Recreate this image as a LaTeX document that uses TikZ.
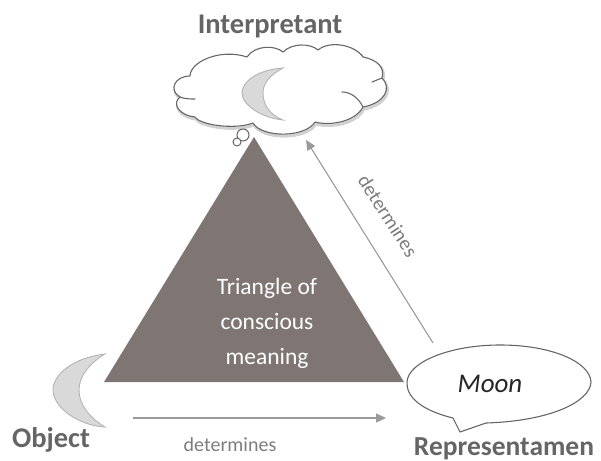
\documentclass[tikz,border=0pt]{standalone}
\usepackage{fontspec}
\setmainfont{Carlito}
\usetikzlibrary{arrows.meta}
\definecolor{tri}{HTML}{7F7674}
\definecolor{lab}{HTML}{656565}
\definecolor{arr}{HTML}{9A9A9A}
\definecolor{moonf}{HTML}{D9D9D9}
\definecolor{moond}{HTML}{B4B4B4}
\tikzset{
 x=1pt,y=-1pt,
 heading/.style={font=\bfseries\fontsize{28.5}{32}\selectfont,text=lab,inner sep=0pt},
 small/.style={font=\fontsize{20}{24}\selectfont,text=lab!85,inner sep=0pt},
 moonshape/.style={draw=moond,fill=moonf,line width=0.9pt},
 bubble/.style={draw=black!60,fill=white,line width=1.1pt,line join=round},
 bubbleline/.style={draw=black!60,line width=1.1pt,line cap=round},
 bubbleshadow/.style={draw=black!18,line width=3pt,line join=round},
 link/.style={draw=arr,line width=1.1pt,-{Triangle[length=10pt,width=9pt]}},
}
\newcommand{\cloudpath}{
 (190,76) .. controls (190,62) and (220,48) .. (247,57)
 .. controls (255,45) and (275,45) .. (283,52)
 .. controls (292,43) and (310,43) .. (318,50)
 .. controls (330,40) and (355,45) .. (363,57)
 .. controls (378,60) and (385,68) .. (382,78)
 .. controls (392,88) and (385,103) .. (363,107)
 .. controls (355,122) and (330,126) .. (315,122)
 .. controls (305,138) and (262,138) .. (253,123)
 .. controls (235,130) and (200,125) .. (195,117)
 .. controls (178,115) and (172,103) .. (180,97)
 .. controls (168,90) and (175,76) .. (190,76) -- cycle}
\begin{document}
\begin{tikzpicture}
\useasboundingbox (0,0) rectangle (601,460);
% cloud
\draw[bubbleshadow,shift={(1,2)}] \cloudpath;
\draw[bubble] \cloudpath;
\draw[bubbleline] (342,92) .. controls (350,92) and (358,97) .. (363,107);
\draw[bubbleline] (180,97) .. controls (185,99) and (190,99) .. (195,99);
\draw[bubbleline] (372,82) -- (382,78);
\node[circle,draw=black!60,fill=white,line width=1pt,minimum size=12pt,inner sep=0pt] (t1) at (243,135) {};
\node[circle,draw=black!60,fill=white,line width=1pt,minimum size=8pt,inner sep=0pt] (t2) at (237,142) {};
% triangle
\fill[tri] (254,137) -- (404,382) -- (104,382) -- cycle;
\node[font=\fontsize{23.5}{35}\selectfont,text=white,align=center,inner sep=0pt] (tt) at (267,323) {Triangle of\\conscious\\meaning};
% moons
\draw[moonshape] (283,68) .. controls (255,70) and (242,83) .. (242,93) .. controls (242,105) and (262,118) .. (283,120) .. controls (270,115) and (263,105) .. (263,93) .. controls (263,83) and (270,75) .. (283,68) -- cycle;
\draw[moonshape] (105,354) .. controls (72,358) and (53,375) .. (53,390) .. controls (53,408) and (80,426) .. (105,427) .. controls (90,418) and (79,405) .. (79,390) .. controls (79,376) and (90,363) .. (105,354) -- cycle;
% speech bubble
\draw[bubble] (453,418) .. controls (420,410) and (406,396) .. (407,382) .. controls (408,362) and (450,345) .. (500,345) .. controls (552,345) and (590,362) .. (591,382) .. controls (590,402) and (550,421) .. (486,423) -- (460,432) -- cycle;
\node[font=\itshape\fontsize{27}{30}\selectfont,text=black!85,inner sep=0pt] (moon) at (490,384) {Moon};
% labels
\node[heading] (int) at (270,27) {Interpretant};
\node[heading] (obj) at (51,440) {Object};
\node[heading,font=\bfseries\fontsize{27.5}{32}\selectfont] (rep) at (504,449) {Representamen};
\node[small] (d1) at (230,445) {determines};
\node[small,rotate=-57] (d2) at (388,216) {determines};
% arrows
\coordinate (a1) at (133,418);
\coordinate (a2) at (386,418);
\coordinate (b1) at (433,343);
\coordinate (b2) at (306,140);
\draw[link] (a1) -- (a2);
\draw[link] (b1) -- (b2);
\end{tikzpicture}
\end{document}
